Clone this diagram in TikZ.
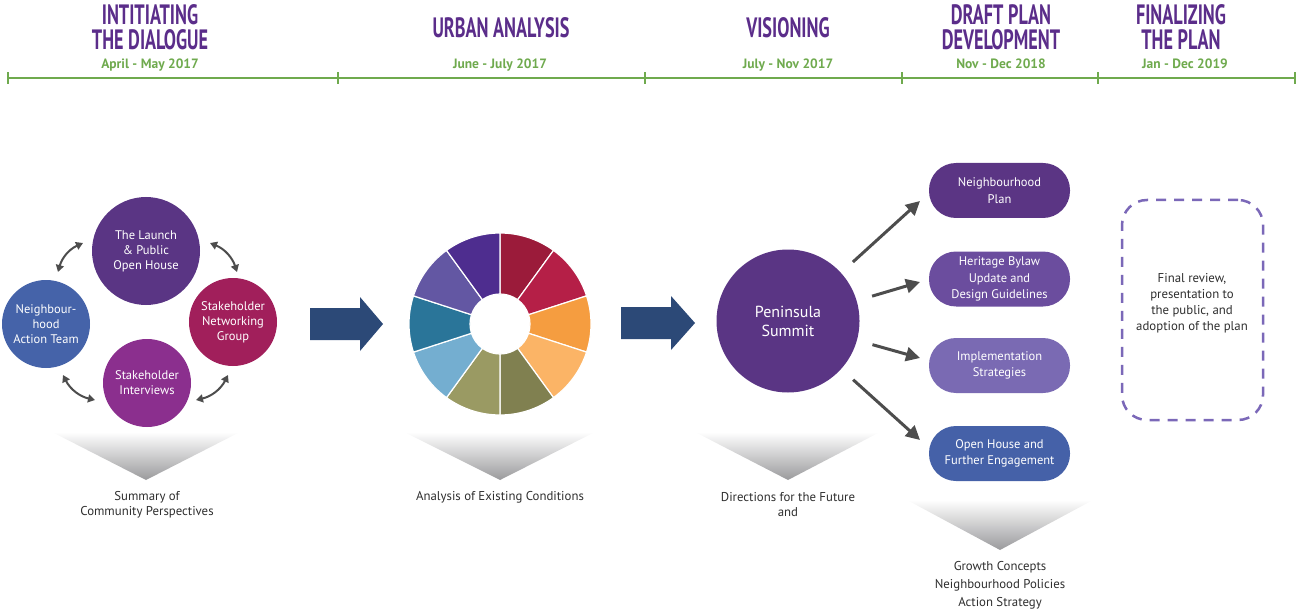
\documentclass[tikz,border=0pt]{standalone}
\usepackage{fontspec}
\setmainfont{PT Sans}
\newfontfamily\headfont{PT Sans}[FakeStretch=0.65]
\usetikzlibrary{calc,arrows.meta}

\definecolor{headpurple}{HTML}{5B2D8A}
\definecolor{dategreen}{HTML}{6FAA4E}
\definecolor{txtgray}{HTML}{2E2E2E}
\definecolor{arrgray}{HTML}{4D4D4D}
\definecolor{navy}{HTML}{2C4977}
\definecolor{cLaunch}{HTML}{5A3584}
\definecolor{cNeigh}{HTML}{4563A9}
\definecolor{cNet}{HTML}{A11F5B}
\definecolor{cInt}{HTML}{8B2F8E}
\definecolor{cBoxA}{HTML}{5B3584}
\definecolor{cBoxB}{HTML}{6B4D9E}
\definecolor{cBoxC}{HTML}{7A6AB3}
\definecolor{cBoxD}{HTML}{4561A8}
\definecolor{dashpurple}{HTML}{7B68B8}
\definecolor{triGray}{HTML}{9A9A9C}
\definecolor{wA}{HTML}{9B1B3A}
\definecolor{wB}{HTML}{B51F47}
\definecolor{wC}{HTML}{F59D40}
\definecolor{wD}{HTML}{FBB466}
\definecolor{wE}{HTML}{808050}
\definecolor{wF}{HTML}{9A9A63}
\definecolor{wG}{HTML}{74AED0}
\definecolor{wH}{HTML}{2A7599}
\definecolor{wI}{HTML}{6357A3}
\definecolor{wJ}{HTML}{4E2D8F}

\tikzset{
  head/.style={font=\headfont\bfseries\fontsize{28}{25}\selectfont, text=headpurple, inner sep=0pt},
  date/.style={font=\bfseries\fontsize{13.5}{15}\selectfont, text=dategreen, anchor=base, inner sep=0pt},
  disc/.style={circle, minimum size=#1, inner sep=0pt, text=white, align=center,
    font=\fontsize{12.5}{15}\selectfont},
  pill/.style={rounded corners=27pt, minimum width=141pt, minimum height=55pt, inner sep=0pt,
    text=white, align=center, fill=#1, font=\fontsize{12.5}{16.5}\selectfont},
  note/.style={text=txtgray, align=center, inner sep=0pt, font=\fontsize{12.8}{15}\selectfont},
  swap/.style={{Triangle[length=7pt,width=8pt]}-{Triangle[length=7pt,width=8pt]}, line width=2pt, draw=arrgray, bend left=25},
  flow/.style={-{Triangle[length=14pt,width=14pt]}, line width=3pt, draw=arrgray},
  tick/.style={draw=dategreen, line width=2pt}
}

\begin{document}
\begin{tikzpicture}[x=1pt,y=1pt]
\useasboundingbox (0,0) rectangle (1297,614);

% ---- timeline ----
\coordinate (L0) at (8,536);
\coordinate (L5) at (1295,536);
\draw[tick] (L0) -- (L5);
\foreach \x in {8,338,645,902,1098,1295}
  \draw[tick] (\x,530) -- (\x,542);

\node[head] (h1a) at (150,599) {INTITIATING};
\node[head] (h1b) at (150,574) {THE DIALOGUE};
\node[head] (h2) at (501,586) {URBAN ANALYSIS};
\node[head] (h3) at (788,586) {VISIONING};
\node[head] (h4a) at (1001,599) {DRAFT PLAN};
\node[head] (h4b) at (1001,574) {DEVELOPMENT};
\node[head] (h5a) at (1181,599) {FINALIZING};
\node[head] (h5b) at (1181,574) {THE PLAN};

\node[date] (d1) at (150,545.5) {April - May 2017};
\node[date] (d2) at (500,545.5) {June - July 2017};
\node[date] (d3) at (788,545.5) {July - Nov 2017};
\node[date] (d4) at (1001,545.5) {Nov - Dec 2018};
\node[date] (d5) at (1185,545.5) {Jan - Dec 2019};

% ---- initiating the dialogue ----
\node[disc=108pt, fill=cLaunch] (launch) at (146,363) {The Launch\\\& Public\\Open House};
\node[disc=88pt, fill=cNeigh] (neigh) at (46,290) {Neighbour-\\hood\\Action Team};
\node[disc=88pt, fill=cNet] (net) at (233,292) {Stakeholder\\Networking\\Group};
\node[disc=88pt, fill=cInt] (inter) at (147,231) {Stakeholder\\Interviews};

\coordinate (ulA) at (58,342);  \coordinate (ulB) at (83,371);
\coordinate (urA) at (210,371); \coordinate (urB) at (237,342);
\coordinate (lrA) at (228,239); \coordinate (lrB) at (196,214);
\coordinate (llA) at (95,214);  \coordinate (llB) at (63,239);
\draw[swap] (ulA) to (ulB);
\draw[swap] (urA) to (urB);
\draw[swap] (lrA) to (lrB);
\draw[swap] (llA) to (llB);

\shade[top color=white, bottom color=triGray] (52,182) -- (240,182) -- (146,134) -- cycle;
\node[note] (sum1) at (147,109.5) {Summary of\\Community Perspectives};

% ---- block arrows ----
\fill[navy] (310,306) -- (360,306) -- (360,317) -- (383,290) -- (360,263) -- (360,274) -- (310,274) -- cycle;
\fill[navy] (621,307) -- (671,307) -- (671,318) -- (695,291) -- (671,264) -- (671,275) -- (621,275) -- cycle;

% ---- urban analysis wheel ----
\coordinate (W) at (500,290);
\foreach \c [count=\i from 0] in {wA,wB,wC,wD,wE,wF,wG,wH,wI,wJ} {
  \pgfmathsetmacro\a{90-36*\i}
  \pgfmathsetmacro\b{\a-36}
  \filldraw[fill=\c, draw=white, line width=1.2pt]
    ($(W)+(\a:91)$) arc[start angle=\a, end angle=\b, radius=91]
    -- ($(W)+(\b:30)$) arc[start angle=\b, end angle=\a, radius=30] -- cycle;
}

\shade[top color=white, bottom color=triGray] (404,182) -- (595,182) -- (500,134) -- cycle;
\node[note] (sum2) at (500,117) {Analysis of Existing Conditions};

% ---- visioning ----
\node[circle, minimum size=143pt, inner sep=0pt, fill=cLaunch, text=white, align=center,
  font=\fontsize{16}{19}\selectfont] (summit) at (788,293) {Peninsula\\Summit};

\shade[top color=white, bottom color=triGray] (695,182) -- (880,182) -- (788,134) -- cycle;
\node[note] (sum3) at (788,109.5) {Directions for the Future\\and};

% ---- draft plan development ----
\node[pill=cBoxA] (b1) at (999.5,423.5) {Neighbourhood\\Plan};
\node[pill=cBoxB] (b2) at (999.5,335) {Heritage Bylaw\\Update and\\Design Guidelines};
\node[pill=cBoxC] (b3) at (999.5,248.5) {Implementation\\Strategies};
\node[pill=cBoxD] (b4) at (999.5,160.5) {Open House and\\Further Engagement};

\coordinate (t1) at (920,413);
\coordinate (t2) at (920,332);
\coordinate (t3) at (920,256);
\coordinate (t4) at (920,174);
\draw[flow, shorten <=16pt] (summit) -- (t1);
\draw[flow, shorten <=16pt] (summit) -- (t2);
\draw[flow, shorten <=16pt] (summit) -- (t3);
\draw[flow, shorten <=16pt] (summit) -- (t4);

\shade[top color=white, bottom color=triGray] (907,114) -- (1093,114) -- (1000,64) -- cycle;
\node[note, font=\fontsize{12.8}{18}\selectfont] (sum4) at (1000,29) {Growth Concepts\\Neighbourhood Policies\\Action Strategy};

% ---- finalizing the plan ----
\node[draw=dashpurple, line width=2.5pt, dash pattern=on 10pt off 8pt, rounded corners=25pt,
  minimum width=141pt, minimum height=220pt, inner sep=0pt] (final) at (1192.5,304) {};
\node[note, font=\fontsize{12.8}{16}\selectfont] (finaltxt) at (1192,311) {Final review,\\presentation to\\the public, and\\adoption of the plan};

\end{tikzpicture}
\end{document}
